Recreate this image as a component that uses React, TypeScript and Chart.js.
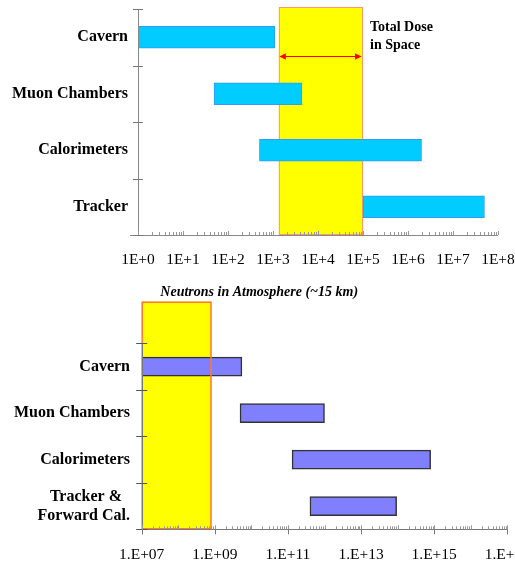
import React, { useEffect, useRef } from "react";
import { Chart, registerables } from "chart.js";

Chart.register(...registerables);

const SERIF = "'Liberation Serif', 'Times New Roman', Times, serif";

// ---------- Top chart data ----------
const topCategories = ["Cavern", "Muon Chambers", "Calorimeters", "Tracker"];
const topStart = [1, 49, 500, 1e5];
const topEnd = [1.1e3, 4.4e3, 2e6, 5e7];
const topBand = [1.35e3, 1e5];
const topTickValues = [1, 1e1, 1e2, 1e3, 1e4, 1e5, 1e6, 1e7, 1e8];
const topTickLabels = ["1E+0", "1E+1", "1E+2", "1E+3", "1E+4", "1E+5", "1E+6", "1E+7", "1E+8"];
const topNote = ["Total Dose", "in Space"];

// ---------- Bottom chart data ----------
const bottomTitle = "Neutrons in Atmosphere (~15 km)";
const bottomCategories: (string | string[])[] = ["Cavern", "Muon Chambers", "Calorimeters", ["Tracker &  ", "Forward Cal."]];
const bottomStart = [1e7, 4.9e9, 1.3e11, 4e11];
const bottomEnd = [5.5e9, 1.0e12, 8e14, 9.4e13];
const bottomBand = [1e7, 8.1e8];
const bottomTickValues = [1e7, 1e9, 1e11, 1e13, 1e15, 1e17];
const bottomTickLabels = ["1.E+07", "1.E+09", "1.E+11", "1.E+13", "1.E+15", "1.E+17"];

const decoPlugin = {
  id: "deco",
  beforeDatasetsDraw(chart: any, _args: any, o: any) {
    const { ctx, chartArea } = chart;
    const xs = chart.scales.x;
    const x0 = xs.getPixelForValue(o.band[0]);
    const x1 = xs.getPixelForValue(o.band[1]);
    const top = chartArea.top - o.bandRise;
    ctx.save();
    ctx.fillStyle = o.bandFill;
    ctx.fillRect(x0, top, x1 - x0, chartArea.bottom - top);
    if (!o.bandEdgeOnTop) {
      ctx.strokeStyle = o.bandEdge;
      ctx.lineWidth = o.bandEdgeWidth;
      ctx.strokeRect(x0 + 0.5, top + 0.5, x1 - x0 - 1, chartArea.bottom - top - 1);
    }
    ctx.restore();
  },
  afterDatasetsDraw(chart: any, _args: any, o: any) {
    const { ctx, chartArea } = chart;
    const xs = chart.scales.x;
    const ys = chart.scales.y;
    const L = chartArea.left;
    const R = chartArea.right;
    const T = chartArea.top;
    const B = chartArea.bottom;
    const bY = Math.round(B) + 0.5;
    const lX = Math.round(L) + 0.5;
    ctx.save();
    if (o.bandEdgeOnTop) {
      const x0 = xs.getPixelForValue(o.band[0]);
      const x1 = xs.getPixelForValue(o.band[1]);
      const top = T - o.bandRise;
      ctx.strokeStyle = o.bandEdge;
      ctx.lineWidth = o.bandEdgeWidth;
      ctx.strokeRect(x0 + 0.5, top + 0.5, x1 - x0 - 1, B - top - 1);
    }
    // axis lines
    ctx.strokeStyle = o.axisColor;
    ctx.lineWidth = 1;
    ctx.beginPath();
    ctx.moveTo(L - o.xAxisLeftExt, bY);
    ctx.lineTo(R, bY);
    ctx.moveTo(lX, T);
    ctx.lineTo(lX, B + o.yAxisDownExt);
    ctx.stroke();
    // category boundary ticks
    ctx.strokeStyle = o.catTickColor;
    ctx.beginPath();
    const n = ys.getLabels().length;
    for (let i = 0; i <= n; i++) {
      const yy = Math.round(ys.getPixelForValue(i - 0.5)) + 0.5;
      ctx.moveTo(L - o.catTick, yy);
      ctx.lineTo(L + o.catTick, yy);
    }
    ctx.stroke();
    // log minor ticks
    ctx.strokeStyle = o.minorColor;
    ctx.beginPath();
    const e0 = Math.round(Math.log10(xs.min));
    const e1 = Math.round(Math.log10(xs.max));
    for (let e = e0; e < e1; e++) {
      for (let k = 2; k <= 9; k++) {
        const px = Math.round(xs.getPixelForValue(k * Math.pow(10, e))) + 0.5;
        ctx.moveTo(px, B);
        ctx.lineTo(px, B - o.minorLen);
      }
    }
    for (let e = e0; e <= e1; e++) {
      const px = Math.round(xs.getPixelForValue(Math.pow(10, e))) + 0.5;
      ctx.moveTo(px, B);
      ctx.lineTo(px, B - o.majorLen);
    }
    ctx.stroke();
    if (o.labelTickDown) {
      ctx.strokeStyle = o.axisColor;
      ctx.beginPath();
      for (const t of xs.ticks) {
        const px = Math.round(xs.getPixelForValue(t.value)) + 0.5;
        ctx.moveTo(px, B);
        ctx.lineTo(px, B + o.labelTickDown);
      }
      ctx.stroke();
    }
    // note + arrow
    if (o.note) {
      const x0 = xs.getPixelForValue(o.band[0]);
      const x1 = xs.getPixelForValue(o.band[1]);
      ctx.fillStyle = "#000";
      ctx.font = `bold 14px ${SERIF}`;
      ctx.textAlign = "left";
      ctx.textBaseline = "middle";
      o.note.forEach((line: string, i: number) => {
        ctx.fillText(line, x1 + 7, T + 18.7 + i * 17.3);
      });
      const ay = T + 47.5;
      ctx.strokeStyle = "#FF0000";
      ctx.fillStyle = "#FF0000";
      ctx.lineWidth = 1;
      ctx.beginPath();
      ctx.moveTo(x0 + 4, ay);
      ctx.lineTo(x1 - 4, ay);
      ctx.stroke();
      ctx.beginPath();
      ctx.moveTo(x0 + 0.5, ay);
      ctx.lineTo(x0 + 7, ay - 3.2);
      ctx.lineTo(x0 + 7, ay + 3.2);
      ctx.closePath();
      ctx.moveTo(x1 - 1.5, ay);
      ctx.lineTo(x1 - 8, ay - 3.2);
      ctx.lineTo(x1 - 8, ay + 3.2);
      ctx.closePath();
      ctx.fill();
    }
    ctx.restore();
  },
};

function makeConfig(p: any): any {
  return {
    type: "bar",
    data: {
      labels: p.categories,
      datasets: [
        {
          data: p.start.map((s: number, i: number) => [s, p.end[i]]),
          backgroundColor: p.barFill,
          borderColor: p.barEdge,
          borderWidth: p.barEdgeWidth,
          borderSkipped: false,
          barThickness: p.barThickness,
        },
      ],
    },
    options: {
      indexAxis: "y",
      animation: false,
      responsive: false,
      events: [],
      layout: { padding: p.padding },
      plugins: {
        legend: { display: false },
        tooltip: { enabled: false },
        title: p.title
          ? {
              display: true,
              text: p.title,
              color: "#000",
              font: { family: SERIF, size: 14, weight: "bold", style: "italic", lineHeight: 1.2 },
              padding: { top: 4, bottom: p.titleGap },
            }
          : { display: false },
        deco: p.deco,
      },
      scales: {
        x: {
          type: "logarithmic",
          min: p.tickValues[0],
          max: p.tickValues[p.tickValues.length - 1],
          grid: { display: false, drawTicks: false },
          border: { display: false },
          afterBuildTicks: (s: any) => {
            s.ticks = p.tickValues.map((v: number) => ({ value: v }));
          },
          afterFit: (s: any) => {
            s.height = p.xHeight;
            s.paddingLeft = 0;
            s.paddingRight = 0;
          },
          ticks: {
            autoSkip: false,
            maxRotation: 0,
            minRotation: 0,
            padding: p.xPad,
            color: "#000",
            font: { family: SERIF, size: 15.5 },
            callback: (_v: any, i: number) => p.tickLabels[i],
          },
        },
        y: {
          type: "category",
          grid: { display: false, drawTicks: false },
          border: { display: false },
          afterFit: (s: any) => {
            s.width = p.yWidth;
            s.paddingTop = 0;
            s.paddingBottom = 0;
          },
          ticks: {
            autoSkip: false,
            padding: p.yPad,
            color: "#000",
            font: { family: SERIF, size: 16, weight: "bold", lineHeight: 1.2 },
          },
        },
      },
    },
    plugins: [decoPlugin],
  };
}

function ChartBox(props: { cfg: any; w: number; h: number; top: number }) {
  const ref = useRef<HTMLCanvasElement | null>(null);
  useEffect(() => {
    if (!ref.current) return;
    const chart = new Chart(ref.current, props.cfg);
    return () => chart.destroy();
  }, []);
  return (
    <div style={{ position: "absolute", left: 0, top: props.top, width: props.w, height: props.h, overflow: "hidden" }}>
      <canvas ref={ref} width={props.w} height={props.h} style={{ display: "block" }} />
    </div>
  );
}

const topCfg = makeConfig({
  categories: topCategories,
  start: topStart,
  end: topEnd,
  tickValues: topTickValues,
  tickLabels: topTickLabels,
  barFill: "#00CCFF",
  barEdge: "#3399FF",
  barEdgeWidth: 1,
  barThickness: 22,
  padding: { left: 0, right: 17, top: 9, bottom: 0 },
  xHeight: 45,
  xPad: 16,
  yWidth: 138,
  yPad: 10,
  deco: {
    band: topBand,
    bandRise: 2,
    bandFill: "#FFFF00",
    bandEdge: "#FF9966",
    bandEdgeWidth: 1,
    bandEdgeOnTop: false,
    axisColor: "#888888",
    catTickColor: "#777777",
    catTick: 5,
    minorColor: "#999999",
    minorLen: 3,
    majorLen: 4,
    xAxisLeftExt: 8,
    yAxisDownExt: 0,
    labelTickDown: 0,
    note: topNote,
  },
});

const bottomCfg = makeConfig({
  categories: bottomCategories,
  start: bottomStart,
  end: bottomEnd,
  tickValues: bottomTickValues,
  tickLabels: bottomTickLabels,
  title: bottomTitle,
  titleGap: 42.5,
  barFill: "#8080FF",
  barEdge: "#333333",
  barEdgeWidth: 1.5,
  barThickness: 19,
  padding: { left: 11.1, right: 7.7, top: 0, bottom: 0 },
  xHeight: 36.7,
  xPad: 16.4,
  yWidth: 130.6,
  yPad: 11.7,
  deco: {
    band: bottomBand,
    bandRise: 41.6,
    bandFill: "#FFFF00",
    bandEdge: "#FF7733",
    bandEdgeWidth: 1.5,
    bandEdgeOnTop: true,
    axisColor: "#777777",
    catTickColor: "#555555",
    catTick: 5.5,
    minorColor: "#999999",
    minorLen: 3,
    majorLen: 4,
    xAxisLeftExt: 0,
    yAxisDownExt: 5,
    labelTickDown: 5,
    note: null,
  },
});

export default function App() {
  return (
    <div style={{ position: "absolute", left: 0, top: 0, width: 515, height: 566, overflow: "hidden", background: "#fff" }}>
      <ChartBox cfg={topCfg} w={515} h={280} top={0} />
      <ChartBox cfg={bottomCfg} w={515} h={286} top={280} />
    </div>
  );
}
